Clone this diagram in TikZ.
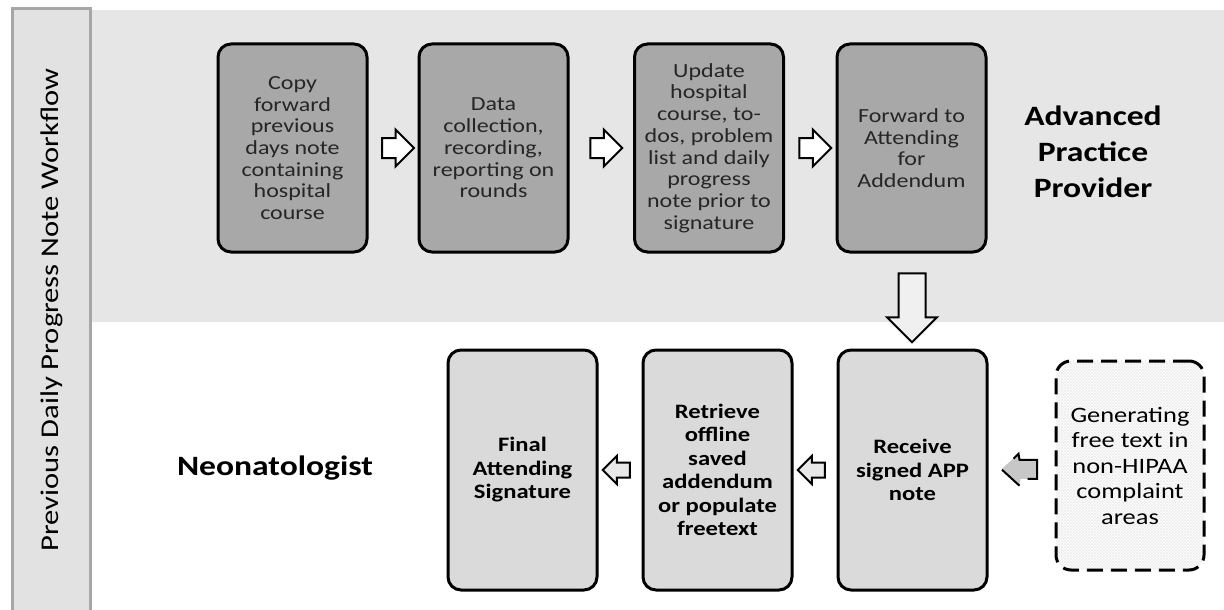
\documentclass[tikz,border=0pt]{standalone}
\usepackage{fontspec}
\setmainfont{Carlito}[FakeStretch=1.2]
\usepackage{tikz}
\usetikzlibrary{shapes.arrows,patterns,calc}
\definecolor{bandgray}{HTML}{E6E6E6}
\definecolor{stripgray}{HTML}{E2E2E2}
\definecolor{stripline}{HTML}{A6A6A6}
\definecolor{boxdark}{HTML}{A8A8A8}
\definecolor{boxlight}{HTML}{DADADA}
\definecolor{textgray}{HTML}{262626}
\tikzstyle{topbox} = [draw=black, line width=3pt, rectangle, rounded corners=13pt, fill=boxdark, minimum width=149pt, minimum height=208pt, align=center, text=textgray, inner sep=2pt, font=\fontsize{20}{21.7}\selectfont]
\tikzstyle{lowbox} = [draw=black, line width=3pt, rectangle, rounded corners=13pt, fill=boxlight, minimum width=149pt, minimum height=240pt, align=center, inner sep=2pt, font=\bfseries\fontsize{20.5}{23.5}\selectfont]
\tikzstyle{genbox} = [draw=black, line width=3pt, dash pattern=on 16pt off 8pt, rectangle, rounded corners=15pt, pattern=crosshatch, pattern color=black!7, minimum width=148pt, minimum height=209pt, align=center, inner sep=2pt, font=\fontsize{22}{25.5}\selectfont]
\tikzstyle{lane} = [align=center, font=\bfseries\fontsize{28}{36}\selectfont]
\tikzstyle{rarrow} = [draw=black, line width=2pt, single arrow, fill=white, minimum height=32pt, minimum width=35pt, inner sep=9pt, single arrow head extend=8.5pt]
\tikzstyle{darrow} = [draw=black, line width=2pt, single arrow, fill=black!6, shape border rotate=270, minimum height=69pt, minimum width=48pt, inner sep=12.5pt, single arrow head extend=11.5pt]
\tikzstyle{larrow} = [draw=black, line width=2pt, single arrow, fill=black!9, shape border rotate=180, minimum height=27pt, minimum width=26pt, inner sep=6.5pt, single arrow head extend=6.5pt]

\begin{document}
\begin{tikzpicture}[x=1pt, y=-1pt]
\useasboundingbox (0,0) rectangle (1224,610);
\fill[white] (0,0) rectangle (1224,610);
\fill[bandgray] (90,10) rectangle (1224,322);
\draw[stripline, line width=3pt, fill=stripgray] (12,9) rectangle (90,614);
\node[rotate=90, font=\fontsize{25.5}{28}\selectfont] (title) at (52,310) {Previous Daily Progress Note Workflow};

\node [topbox] (copy) at (292.5,148) {Copy\\forward\\previous\\days note\\containing\\hospital\\course};
\node [topbox] (collect) at (493.5,148) {Data\\collection,\\recording,\\reporting on\\rounds};
\node [topbox] (update) at (709,148) {Update\\hospital\\course, to-\\dos, problem\\list and daily\\progress\\note prior to\\signature};
\node [topbox] (forward) at (911.5,148) {Forward to\\Attending\\for\\Addendum};
\node [lane] (app) at (1093,152) {Advanced\\Practice\\Provider};

\node [lowbox] (final) at (522.5,470) {Final\\Attending\\Signature};
\node [lowbox] (retrieve) at (717.5,470) {Retrieve\\offline\\saved\\addendum\\or populate\\freetext};
\node [lowbox] (receive) at (912.5,470) {Receive\\signed APP\\note};
\node [genbox] (gen) at (1130,465.5) {Generating\\free text in\\non-HIPAA\\complaint\\areas};
\node [lane] (neo) at (275,468) {Neonatologist};

\node [rarrow] (a1) at ($(copy.east)!0.5!(collect.west)$) {};
\node [rarrow] (a2) at ($(collect.east)!0.5!(update.west)$) {};
\node [rarrow] (a3) at ($(update.east)!0.5!(forward.west)$) {};
\node [darrow] (a4) at ($(forward.south)!0.5!(receive.north)$) {};
\node [larrow] (a5) at ($(receive.west)!0.5!(retrieve.east)$) {};
\node [larrow] (a6) at ($(retrieve.west)!0.5!(final.east)$) {};

\coordinate (bend) at ($(receive.east)!0.5!(gen.west)$);
\begin{scope}[shift={(bend)}, line width=2pt]
\fill[black!22] (-19.5,1) -- (-4,-13) -- (-2,-8) -- (15.5,-8) -- (15.5,11) -- (-1,11) -- (-2,18) -- cycle;
\draw (-19.5,2) -- (-2,18);
\draw (-8,-9) -- (-3,-14) -- (-2,-8) -- (15.5,-8) -- (15.5,11) -- (6,11);
\end{scope}
\end{tikzpicture}
\end{document}
